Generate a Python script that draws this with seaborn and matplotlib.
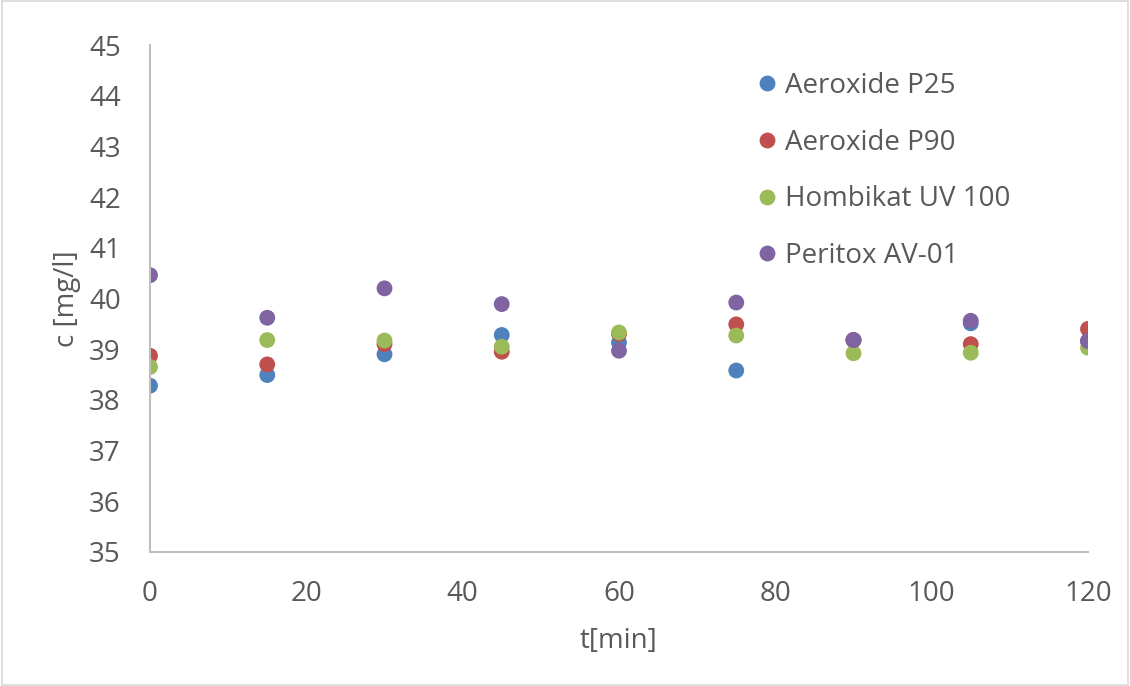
import matplotlib
matplotlib.use("Agg")
import matplotlib.pyplot as plt
import seaborn as sns
import pandas as pd

t = [0, 15, 30, 45, 60, 75, 90, 105, 120]
series_names = ["Aeroxide P25", "Aeroxide P90", "Hombikat UV 100", "Peritox AV-01"]
p25 = [38.28, 38.49, 38.90, 39.28, 39.13, 38.58, 39.18, 39.51, 39.16]
p90 = [38.87, 38.70, 39.10, 38.95, 39.30, 39.49, 39.18, 39.10, 39.40]
uv100 = [38.65, 39.18, 39.17, 39.05, 39.33, 39.27, 38.92, 38.93, 39.03]
av01 = [40.46, 39.62, 40.20, 39.89, 38.97, 39.92, 39.18, 39.56, 39.16]
colors = ["#4F81BD", "#C0504D", "#9BBB59", "#8064A2"]

rows = []
for name, vals in zip(series_names, [p25, p90, uv100, av01]):
    for x, y in zip(t, vals):
        rows.append({"t": x, "c": y, "series": name})
df = pd.DataFrame(rows)

sns.set_style("white")
plt.rcParams['font.family'] = ['Open Sans', 'DejaVu Sans']
txtcol = "#595959"
fs = 20

fig = plt.figure(figsize=(11.3, 6.86), dpi=100)
ax = fig.add_axes([150/1130, 1-552/686, (1088-150)/1130, (552-45)/686])

sns.scatterplot(data=df, x="t", y="c", hue="series", hue_order=series_names,
                palette=colors, s=130, edgecolor="none", ax=ax)

ax.set_xlim(0, 120)
ax.set_ylim(35, 45)
ax.set_xticks(range(0, 121, 20))
ax.set_yticks(range(35, 46, 1))
ax.tick_params(axis="y", length=0, labelsize=fs, labelcolor=txtcol, pad=21)
ax.tick_params(axis="x", length=0, labelsize=fs, labelcolor=txtcol, pad=20)
for s in ["top", "right"]:
    ax.spines[s].set_visible(False)
for s in ["left", "bottom"]:
    ax.spines[s].set_color("#BFBFBF")
    ax.spines[s].set_linewidth(1.5)
ax.set_xlabel("t[min]", fontsize=fs, color=txtcol, labelpad=14)
ax.set_ylabel("c [mg/l]", fontsize=fs, color=txtcol, labelpad=6)
ax.patch.set_alpha(0)

leg = ax.legend(loc="upper left", bbox_to_anchor=(753/1130, 1-72/686),
                bbox_transform=fig.transFigure, frameon=False,
                fontsize=fs, labelspacing=1.03, handletextpad=0.15, handlelength=1.0,
                borderpad=0, borderaxespad=0)
for txt in leg.get_texts():
    txt.set_color(txtcol)

fig.patches.append(plt.Rectangle((0.002, 0.002), 0.996, 0.996, transform=fig.transFigure,
                                 fill=False, edgecolor="#D9D9D9", linewidth=1.2))
fig.savefig("out.png", dpi=100)
